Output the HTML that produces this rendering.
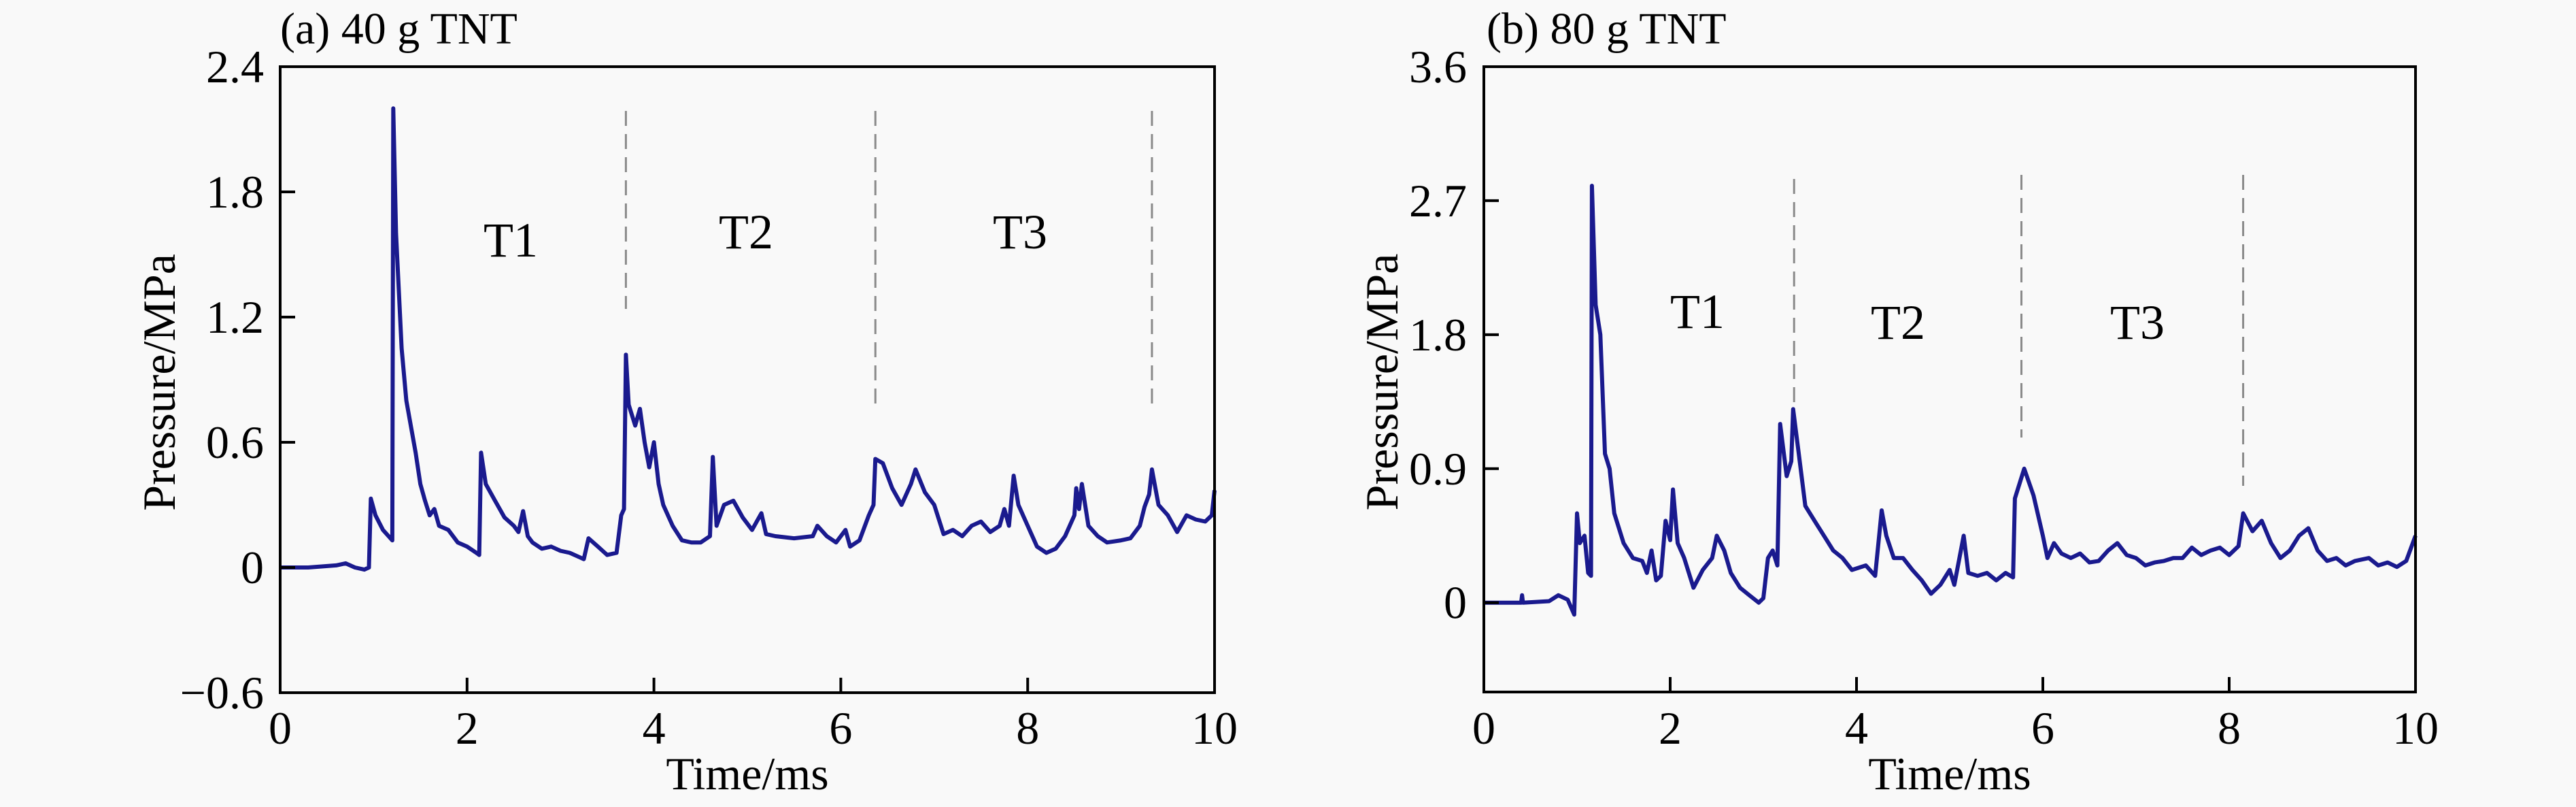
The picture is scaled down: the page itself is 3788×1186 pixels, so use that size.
<!DOCTYPE html>
<html><head><meta charset="utf-8">
<style>
html,body{margin:0;padding:0;background:#f9f9f9;}
svg{display:block;font-family:"Liberation Serif",serif;}
</style></head>
<body>
<svg id="fig" width="3788" height="1186" viewBox="0 0 3788 1186">
<rect width="3788" height="1186" fill="#f9f9f9"/>
</svg>
<script>
// Panel (a) 40 g TNT
const timeA = [0,0.3,0.6,0.7,0.8,0.9,0.95,0.97,1.02,1.1,1.2,1.21,1.24,1.3,1.35,1.45,1.5,1.55,1.6,1.65,1.7,1.8,1.9,2.0,2.1,2.13,2.15,2.2,2.3,2.4,2.5,2.55,2.6,2.65,2.7,2.8,2.9,3.0,3.1,3.2,3.25,3.3,3.4,3.5,3.6,3.65,3.68,3.7,3.73,3.8,3.85,3.9,3.95,4.0,4.05,4.1,4.2,4.3,4.4,4.5,4.6,4.63,4.67,4.75,4.85,4.95,5.05,5.15,5.2,5.3,5.5,5.7,5.75,5.85,5.95,6.05,6.1,6.2,6.3,6.35,6.37,6.45,6.55,6.65,6.75,6.8,6.9,7.0,7.1,7.2,7.3,7.4,7.5,7.6,7.7,7.75,7.8,7.85,7.9,8.0,8.1,8.2,8.3,8.4,8.5,8.52,8.55,8.58,8.65,8.75,8.85,9.0,9.1,9.2,9.25,9.3,9.33,9.4,9.5,9.6,9.7,9.8,9.9,9.97,10.0];
const pressA = [0,0,0.01,0.02,0.0,-0.01,0.0,0.33,0.25,0.18,0.13,2.2,1.6,1.05,0.8,0.55,0.4,0.32,0.25,0.28,0.2,0.18,0.12,0.1,0.07,0.06,0.55,0.4,0.32,0.24,0.2,0.17,0.27,0.15,0.12,0.09,0.1,0.08,0.07,0.05,0.04,0.14,0.1,0.06,0.07,0.25,0.28,1.02,0.78,0.68,0.76,0.6,0.48,0.6,0.4,0.3,0.2,0.13,0.12,0.12,0.15,0.53,0.2,0.3,0.32,0.24,0.18,0.26,0.16,0.15,0.14,0.15,0.2,0.15,0.12,0.18,0.1,0.13,0.25,0.3,0.52,0.5,0.38,0.3,0.4,0.47,0.36,0.3,0.16,0.18,0.15,0.2,0.22,0.17,0.2,0.28,0.2,0.44,0.3,0.2,0.1,0.07,0.09,0.15,0.25,0.38,0.28,0.4,0.2,0.15,0.12,0.13,0.14,0.2,0.29,0.35,0.47,0.3,0.25,0.17,0.25,0.23,0.22,0.25,0.37];
const yTicksA = [-0.6,0,0.6,1.2,1.8,2.4];
const yLabelsA = ["\u22120.6","0","0.6","1.2","1.8","2.4"];
const dividersA = [3.7,6.37,9.33];
// Panel (b) 80 g TNT
const timeB = [0,0.4,0.41,0.42,0.7,0.8,0.9,0.97,1.0,1.03,1.08,1.12,1.15,1.16,1.2,1.25,1.3,1.35,1.4,1.5,1.6,1.7,1.75,1.8,1.85,1.9,1.95,2.0,2.03,2.08,2.15,2.25,2.35,2.45,2.5,2.58,2.65,2.75,2.85,2.95,3.0,3.05,3.1,3.15,3.18,3.25,3.3,3.32,3.38,3.45,3.55,3.65,3.75,3.85,3.95,4.1,4.2,4.27,4.32,4.4,4.5,4.6,4.7,4.8,4.9,5.0,5.05,5.15,5.2,5.3,5.4,5.5,5.6,5.68,5.7,5.8,5.9,6.0,6.05,6.12,6.2,6.3,6.4,6.5,6.6,6.7,6.8,6.9,7.0,7.1,7.2,7.3,7.4,7.5,7.6,7.7,7.8,7.9,8.0,8.1,8.15,8.25,8.35,8.45,8.55,8.65,8.75,8.85,8.95,9.05,9.15,9.25,9.35,9.5,9.6,9.7,9.8,9.9,10.0];
const pressB = [0,0,0.05,0,0.01,0.05,0.02,-0.08,0.6,0.4,0.45,0.2,0.18,2.8,2.0,1.8,1.0,0.9,0.6,0.4,0.3,0.28,0.2,0.35,0.15,0.18,0.55,0.42,0.76,0.4,0.3,0.1,0.22,0.3,0.45,0.35,0.2,0.1,0.05,0.0,0.03,0.3,0.35,0.25,1.2,0.85,0.95,1.3,1.0,0.65,0.55,0.45,0.35,0.3,0.22,0.25,0.18,0.62,0.45,0.3,0.3,0.22,0.15,0.06,0.12,0.22,0.12,0.45,0.2,0.18,0.2,0.15,0.2,0.17,0.7,0.9,0.72,0.45,0.3,0.4,0.33,0.3,0.33,0.27,0.28,0.35,0.4,0.32,0.3,0.25,0.27,0.28,0.3,0.3,0.37,0.32,0.35,0.37,0.32,0.38,0.6,0.48,0.55,0.4,0.3,0.35,0.45,0.5,0.35,0.28,0.3,0.25,0.28,0.3,0.25,0.27,0.24,0.28,0.45];
const yTicksB = [0,0.9,1.8,2.7,3.6];
const yLabelsB = ["0","0.9","1.8","2.7","3.6"];
const dividersB = [3.33,5.77,8.15];
const xTicks = [0,2,4,6,8,10];

const NS = "http://www.w3.org/2000/svg";
const svg = document.getElementById("fig");
function mk(tag, attrs, parent){
  const e = document.createElementNS(NS, tag);
  for (const k in attrs) e.setAttribute(k, attrs[k]);
  (parent||svg).appendChild(e);
  return e;
}

function panel(cfg){
  const g = mk("g", {});
  
  
  const L=cfg.L, R=cfg.R, T=cfg.T, B=cfg.B;
  const xS = t => L + (t-0)/(10-0)*(R-L);
  const yS = p => B - (p-cfg.ymin)/(cfg.ymax-cfg.ymin)*(B-T);

  cfg.dividers.forEach((d,i)=>{
    const ln = mk("line",{x1:xS(d),x2:xS(d),y1:cfg.dy[i][0],y2:cfg.dy[i][1],stroke:"#8a8a8a","stroke-width":3,"stroke-dasharray":"22 12"},g);
    
    
  });

  let d = "";
  cfg.time.forEach((t,i)=>{ d += (i?"L":"M") + xS(t).toFixed(1) + " " + yS(cfg.press[i]).toFixed(1) + " "; });
  const path = mk("path",{d:d,fill:"none",stroke:"#1a1a8e","stroke-width":6,"stroke-linejoin":"round"},g);
  
  

  const fr = mk("rect",{x:L,y:T,width:R-L,height:B-T,fill:"none",stroke:"#000","stroke-width":4},g);
  
  

  xTicks.forEach(v=>{
    const x = xS(v);
    const tk = mk("line",{x1:x,x2:x,y1:B,y2:B-22,stroke:"#000","stroke-width":4},g);
    
    
    const tx = mk("text",{x:x,y:1093,"font-size":68,"text-anchor":"middle"},g);
    tx.textContent = String(v);
    
    
  });
  cfg.yTicks.forEach((v,i)=>{
    const y = yS(v);
    const tk = mk("line",{x1:L,x2:L+22,y1:y,y2:y,stroke:"#000","stroke-width":4},g);
    
    
    const tx = mk("text",{x:cfg.ylx,y:y+23,"font-size":68,"text-anchor":"end"},g);
    tx.textContent = cfg.yLabels[i];
    
    
  });
  cfg.stages.forEach((s,i)=>{
    const tx = mk("text",{x:s[0],y:s[1]+25,"font-size":72,"text-anchor":"middle"},g);
    tx.textContent = "T" + (i+1);
    
    
  });
  const xt = mk("text",{x:(L+R)/2,y:1160,"font-size":68,"text-anchor":"middle"},g);
  xt.textContent = "Time/ms";
  
  
  const yt = mk("text",{x:0,y:0,"font-size":68,"text-anchor":"middle",transform:"translate("+(cfg.ytx+23)+","+((T+B)/2+4)+") rotate(-90)"},g);
  yt.textContent = "Pressure/MPa";
  
  
  const ti = mk("text",{x:cfg.titleX,y:64,"font-size":66},g);
  ti.textContent = cfg.title;
  
  
}

panel({id:"a",L:412,R:1786,T:98,B:1018,ymin:-0.6,ymax:2.4,time:timeA,press:pressA,
  yTicks:yTicksA,yLabels:yLabelsA,dividers:dividersA,dy:[[163,454],[163,605],[163,605]],
  stages:[[751,352],[1097,340],[1500,340]],ylx:388,ytx:234,titleX:412,title:"(a) 40 g TNT"});
panel({id:"b",L:2182,R:3552,T:98,B:1017,ymin:-0.6,ymax:3.6,time:timeB,press:pressB,
  yTicks:yTicksB,yLabels:yLabelsB,dividers:dividersB,dy:[[263,602],[257,643],[257,714]],
  stages:[[2496,457],[2791,473],[3143,473]],ylx:2157,ytx:2032,titleX:2186,title:"(b) 80 g TNT"});
</script>
</body></html>
